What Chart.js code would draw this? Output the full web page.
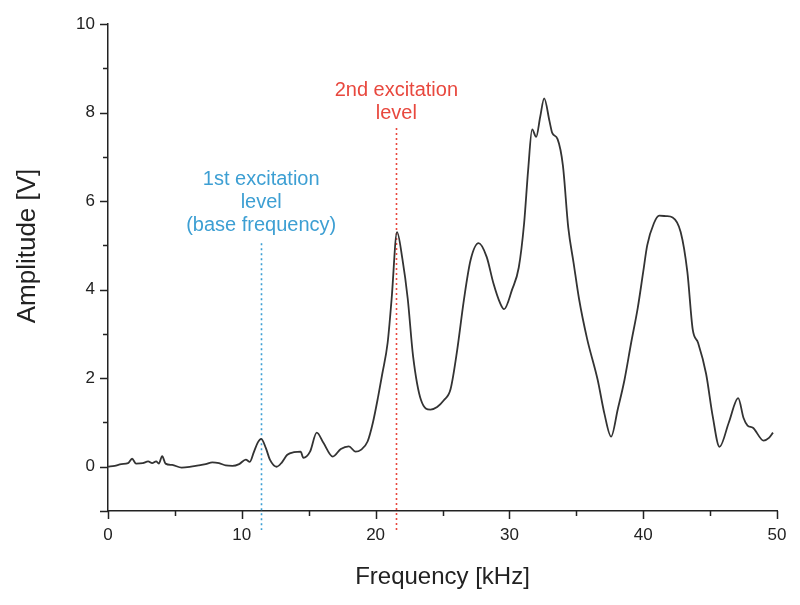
<!DOCTYPE html>
<html>
<head>
<meta charset="utf-8">
<script src="https://cdn.jsdelivr.net/npm/chart.js@4/dist/chart.umd.min.js"></script>
<style>
  body { margin: 0; background: #fff; }
  canvas { display: block; }
</style>
</head>
<body>
<canvas id="myChart" width="800" height="605"></canvas>
<script>
// spectrum
const freqKHz = [
    0.0, 0.5, 1.0, 1.5, 1.8, 2.1, 2.6, 3.0, 3.3, 3.6, 3.8, 4.05, 4.3, 4.8, 5.5, 6.2, 6.8, 7.3, 7.8, 8.3,
    8.8, 9.3, 9.8, 10.3, 10.6, 10.9, 11.2, 11.45, 11.8, 12.1, 12.6, 13.0, 13.4, 13.9, 14.4, 14.6, 15.1, 15.6, 16.1, 16.8,
    17.4, 18.0, 18.5, 18.9, 19.4, 19.8, 20.2, 20.5, 20.9, 21.2, 21.6, 22.0, 22.4, 22.8, 23.4, 24.1, 24.6, 25.1, 25.6, 26.1,
    26.6, 27.1, 27.7, 28.3, 28.8, 29.3, 29.6, 30.2, 30.7, 31.1, 31.4, 31.7, 32.0, 32.3, 32.6, 33.0, 33.2, 33.6, 34.0, 34.4,
    34.8, 35.2, 35.8, 36.6, 37.1, 37.6, 38.1, 38.6, 39.1, 39.6, 40.0, 40.3, 40.8, 41.2, 41.7, 42.2, 42.8, 43.3, 43.7, 44.1,
    44.7, 45.2, 45.7, 46.4, 47.1, 47.5, 47.8, 48.2, 49.0, 49.4, 49.7
];
const amplitudeV = [
    0.0, 0.02, 0.06, 0.08, 0.18, 0.07, 0.08, 0.12, 0.08, 0.12, 0.07, 0.24, 0.07, 0.04, -0.02, 0.0, 0.03, 0.06, 0.1, 0.08,
    0.03, 0.02, 0.06, 0.16, 0.11, 0.33, 0.55, 0.63, 0.42, 0.16, 0.0, 0.1, 0.27, 0.33, 0.34, 0.2, 0.34, 0.77, 0.54, 0.23,
    0.4, 0.46, 0.34, 0.38, 0.57, 1.0, 1.6, 2.1, 2.8, 3.8, 5.3, 4.7, 3.8, 2.5, 1.5, 1.29, 1.35, 1.5, 1.75, 2.64,
    3.77, 4.67, 5.05, 4.74, 4.15, 3.7, 3.56, 4.0, 4.5, 5.5, 6.7, 7.62, 7.45, 7.9, 8.32, 7.8, 7.54, 7.4, 6.8, 5.4,
    4.6, 3.8, 2.9, 1.96, 1.2, 0.68, 1.3, 1.96, 2.8, 3.6, 4.4, 5.0, 5.5, 5.67, 5.66, 5.63, 5.3, 4.4, 3.1, 2.8,
    2.1, 1.13, 0.45, 1.0, 1.55, 1.1, 0.93, 0.88, 0.59, 0.65, 0.77
];

// excitation markers
const markerFreq = [11.45, 21.55];
const markerTop = [5.05, 7.65];
const markerText = [
    ['1st excitation', 'level', '(base frequency)'],
    ['2nd excitation', 'level']
];
const markerTextY = [6.48, 8.5];   // value of first text line
const markerColor = ['#3d9fd3', '#e8483e'];

const xMajor = [0, 10, 20, 30, 40, 50];
const xMinor = [5, 15, 25, 35, 45];
const yMajor = [-1, 0, 2, 4, 6, 8, 10];
const yMinor = [1, 3, 5, 7, 9];

const FONT = "'Liberation Sans', Arial, sans-serif";


/********** PLUGIN: TICKS, MARKERS, LABELS **********/

const extras = {
    id: 'extras',
    beforeDatasetsDraw(chart) {
        const ctx = chart.ctx;
        const xs = chart.scales.x, ys = chart.scales.y;
        ctx.save();
        ctx.lineWidth = 1.6;
        ctx.setLineDash([2, 3]);
        markerFreq.forEach((f, i) => {
            const px = Math.round(xs.getPixelForValue(f)) + 0.5;
            ctx.strokeStyle = markerColor[i];
            ctx.beginPath();
            ctx.moveTo(px, ys.getPixelForValue(markerTop[i]));
            ctx.lineTo(px, chart.chartArea.bottom + 19);
            ctx.stroke();
        });
        ctx.restore();
    },
    afterDraw(chart) {
        const ctx = chart.ctx;
        const xs = chart.scales.x, ys = chart.scales.y;
        const area = chart.chartArea;
        ctx.save();
        ctx.strokeStyle = '#222';
        ctx.lineWidth = 1.5;
        ctx.beginPath();
        xMajor.forEach(v => {
            const px = Math.round(xs.getPixelForValue(v)) + 0.5;
            ctx.moveTo(px, area.bottom); ctx.lineTo(px, area.bottom + 8);
        });
        xMinor.forEach(v => {
            const px = Math.round(xs.getPixelForValue(v)) + 0.5;
            ctx.moveTo(px, area.bottom); ctx.lineTo(px, area.bottom + 5);
        });
        yMajor.forEach(v => {
            const py = Math.round(ys.getPixelForValue(v)) + 0.5;
            ctx.moveTo(area.left, py); ctx.lineTo(area.left - 8, py);
        });
        yMinor.forEach(v => {
            const py = Math.round(ys.getPixelForValue(v)) + 0.5;
            ctx.moveTo(area.left, py); ctx.lineTo(area.left - 5, py);
        });
        ctx.stroke();

        // y axis title, sits a little above the axis centre in the original
        ctx.fillStyle = '#222';
        ctx.font = '26px ' + FONT;
        ctx.textAlign = 'center';
        ctx.textBaseline = 'middle';
        ctx.translate(28, 246);
        ctx.rotate(-Math.PI / 2);
        ctx.fillText('Amplitude [V]', 0, 0);
        ctx.setTransform(1, 0, 0, 1, 0, 0);

        // marker labels
        ctx.font = '20px ' + FONT;
        markerText.forEach((lines, i) => {
            const px = xs.getPixelForValue(markerFreq[i]);
            const py0 = ys.getPixelForValue(markerTextY[i]);
            ctx.fillStyle = markerColor[i];
            lines.forEach((t, j) => ctx.fillText(t, px, py0 + j * 23));
        });
        ctx.restore();
    }
};


/********** CHART **********/

const ctx = document.getElementById('myChart').getContext('2d');
const myChart = new Chart(ctx, {
    type: 'line',
    data: {
        datasets: [{
            data: freqKHz.map((f, i) => ({ x: f, y: amplitudeV[i] })),
            borderColor: '#333',
            borderWidth: 1.8,
            pointRadius: 0,
            cubicInterpolationMode: 'monotone',
            fill: false
        }]
    },
    options: {
        responsive: false,
        animation: false,
        layout: { padding: { top: 24, right: 23, left: 0, bottom: 0 } },
        plugins: { legend: { display: false }, tooltip: { enabled: false } },
        scales: {
            x: {
                type: 'linear',
                position: 'bottom',
                min: 0,
                max: 50,
                afterFit: s => { s.height = 94; },
                afterBuildTicks: s => { s.ticks = xMajor.map(v => ({ value: v })); },
                grid: { drawOnChartArea: false, drawTicks: true, tickLength: 8, tickColor: 'rgba(0,0,0,0)' },
                border: { display: true, color: '#222', width: 1.5 },
                ticks: { color: '#222', padding: 6, maxRotation: 0, font: { family: FONT, size: 17 } },
                title: {
                    display: true,
                    text: 'Frequency [kHz]',
                    color: '#222',
                    font: { family: FONT, size: 24 },
                    padding: { top: 0, bottom: 13 }
                }
            },
            y: {
                min: -1,
                max: 10,
                afterFit: s => { s.width = 108; },
                afterBuildTicks: s => { s.ticks = yMajor.filter(v => v >= 0).map(v => ({ value: v })); },
                grid: { drawOnChartArea: false, drawTicks: true, tickLength: 8, tickColor: 'rgba(0,0,0,0)' },
                border: { display: true, color: '#222', width: 1.5 },
                ticks: { color: '#222', padding: 5, font: { family: FONT, size: 17 } },
                title: { display: false }
            }
        }
    },
    plugins: [extras]
});
</script>
</body>
</html>
